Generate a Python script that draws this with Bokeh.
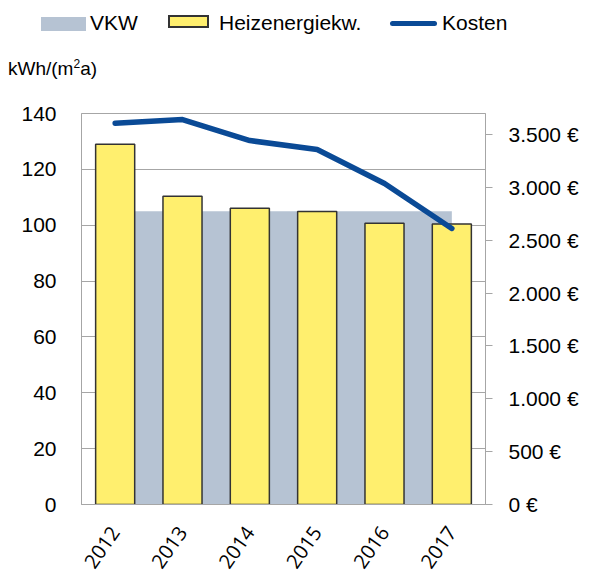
from bokeh.plotting import figure
from bokeh.layouts import column
from bokeh.models import FactorRange, Range1d, LinearAxis, FixedTicker, Div
from bokeh.embed import file_html
from bokeh.resources import INLINE

years = ["2012", "2013", "2014", "2015", "2016", "2017"]
heizenergie = [129, 110.4, 106.1, 104.9, 100.7, 100.4]
vkw = [105, 105, 105, 105, 105, 105]
kosten = [3608, 3643, 3444, 3359, 3037, 2612]
left_ticks = [0, 20, 40, 60, 80, 100, 120, 140]
cost_ticks = [0, 500, 1000, 1500, 2000, 2500, 3000, 3500]
cost_labels = ["0 €", "500 €", "1.000 €", "1.500 €", "2.000 €", "2.500 €", "3.000 €", "3.500 €"]
series_names = ["VKW", "Heizenergiekw.", "Kosten"]

FONT = "Liberation Sans"
GRID = "#A6A6A6"
C_VKW = "#B6C3D3"
C_HEIZ = "#FFEF6E"
C_EDGE = "#333333"
C_COST = "#0A4A96"

W, H = 599, 579
HEAD = 90

# ---------- header: legend + unit ----------
txt = f"position:absolute;font-family:'{FONT}';font-size:21px;line-height:24px;color:#000;white-space:nowrap;"
html = f"""
<div style="position:relative;width:{W}px;height:{HEAD}px;overflow:hidden;">
  <div style="position:absolute;left:41px;top:17px;width:45px;height:14px;background:{C_VKW};"></div>
  <div style="{txt}left:90px;top:11px;">{series_names[0]}</div>
  <div style="position:absolute;left:168px;top:15px;width:41px;height:13px;background:{C_HEIZ};border:2px solid {C_EDGE};"></div>
  <div style="{txt}left:219px;top:11px;">{series_names[1]}</div>
  <div style="position:absolute;left:390px;top:21px;width:47px;height:5px;border-radius:3px;background:{C_COST};"></div>
  <div style="{txt}left:442px;top:11px;">{series_names[2]}</div>
  <div style="position:absolute;left:8px;top:58px;font-family:'{FONT}';font-size:19px;line-height:22px;color:#000;white-space:nowrap;">kWh/(m<sup style="font-size:12px;line-height:0;">2</sup>a)</div>
</div>
"""
head = Div(text=html, width=W, height=HEAD, margin=0)

# ---------- main chart ----------
p = figure(width=W, height=H - HEAD, x_range=FactorRange(*years, range_padding=0),
           y_range=Range1d(0, 140), output_backend="svg", toolbar_location=None,
           min_border_left=81, min_border_right=114, min_border_top=113 - HEAD,
           min_border_bottom=75)
p.extra_y_ranges = {"cost": Range1d(0, 3700)}

p.outline_line_color = GRID
p.outline_line_width = 1
p.xgrid.grid_line_color = None
p.ygrid.grid_line_color = GRID
p.ygrid.ticker = FixedTicker(ticks=left_ticks)

p.varea(x=years, y1=0, y2=vkw, fill_color=C_VKW)
p.vbar(x=years, top=heizenergie, width=0.58, fill_color=C_HEIZ,
       line_color=C_EDGE, line_width=1.5)
p.line(x=years, y=kosten, y_range_name="cost", line_color=C_COST,
       line_width=5.5, line_cap="round", line_join="round")

ya = p.yaxis[0]
ya.ticker = FixedTicker(ticks=left_ticks)
ya.axis_line_color = GRID
ya.major_tick_out = 0
ya.major_tick_in = 0
ya.minor_tick_line_color = None
ya.major_label_standoff = 25
ya.major_label_text_font = FONT
ya.major_label_text_font_size = "21px"
ya.major_label_text_color = "#000000"

ra = LinearAxis(y_range_name="cost", ticker=FixedTicker(ticks=cost_ticks),
                major_label_overrides={t: l for t, l in zip(cost_ticks, cost_labels)})
ra.axis_line_color = GRID
ra.major_tick_line_color = GRID
ra.major_tick_out = 7
ra.major_tick_in = 0
ra.minor_tick_line_color = None
ra.major_label_standoff = 16
ra.major_label_text_font = FONT
ra.major_label_text_font_size = "21px"
ra.major_label_text_color = "#000000"
p.add_layout(ra, "right")

xa = p.xaxis[0]
xa.axis_line_color = GRID
xa.major_tick_line_color = None
xa.major_tick_out = 0
xa.major_label_orientation = 0.96
xa.major_label_standoff = 24
xa.major_label_text_font = "Open Sans"
xa.major_label_text_font_size = "20px"
xa.major_label_text_color = "#000000"

layout = column(head, p, spacing=0)
open("out.html", "w").write(file_html(layout, INLINE))
